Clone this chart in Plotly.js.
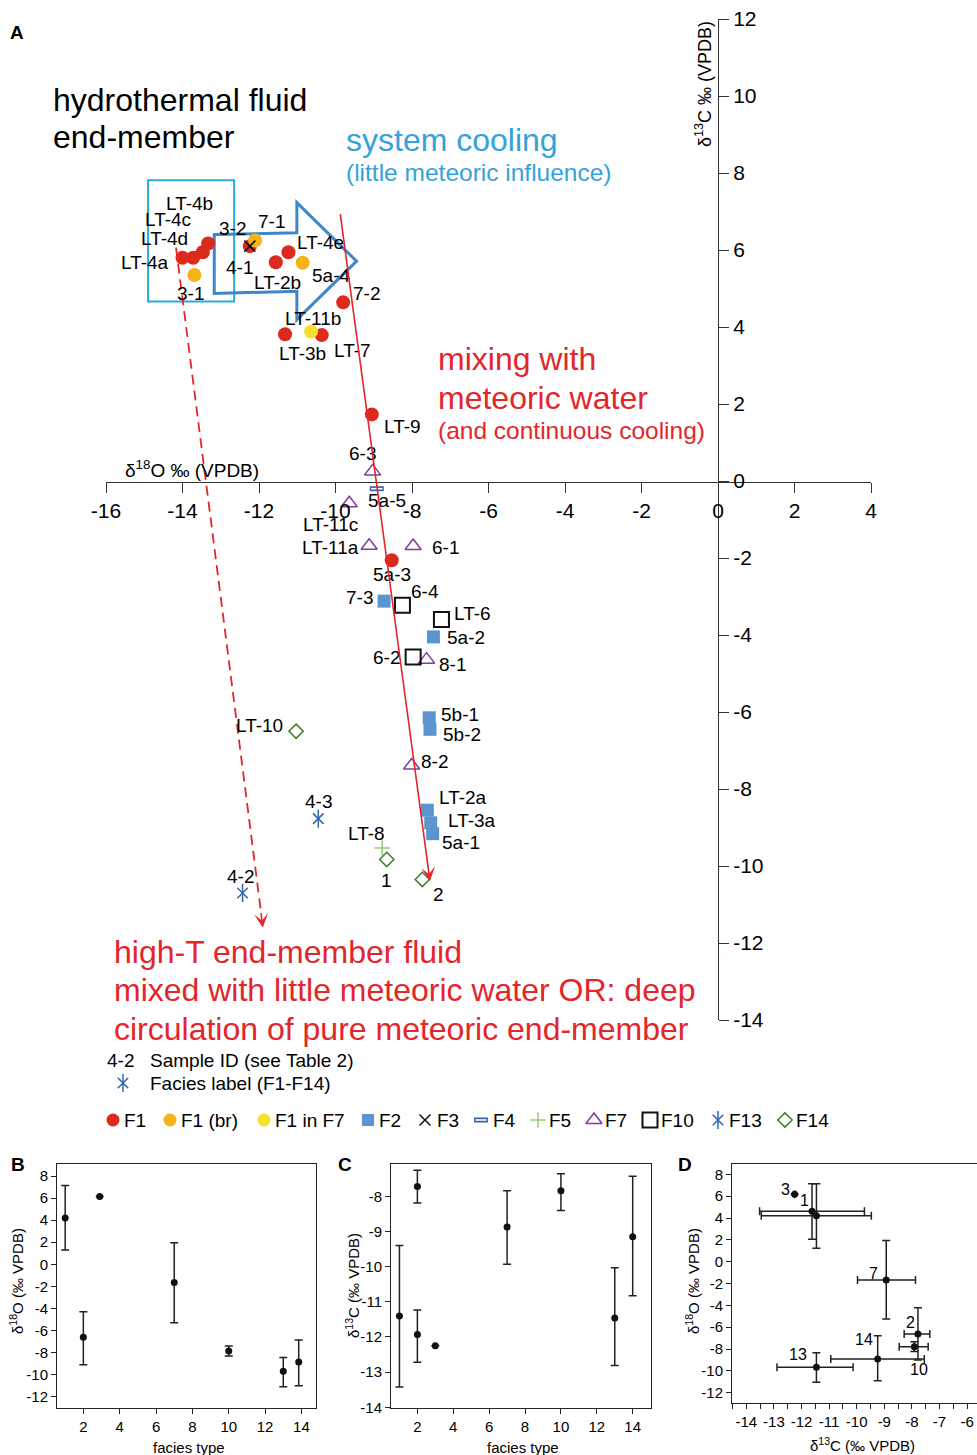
<!DOCTYPE html>
<html><head><meta charset="utf-8">
<script src="https://cdn.plot.ly/plotly-3.0.1.min.js"></script>
<style>body{margin:0;padding:0;background:#fff}#chart{width:977px;height:1455px}</style>
</head><body><div id="chart"></div>
<script>
// ---------------- DATA: panel A (x = δ18O, y = δ13C) ----------------
const F1_d18O = [-14.0,-13.72,-13.47,-13.33,-12.24,-11.23,-11.56,-9.80,-11.32,-10.36,-9.05,-8.53];
const F1_d13C = [5.80,5.80,5.94,6.17,6.10,5.94,5.68,4.64,3.81,3.79,1.73,-2.06];
const F1br_d18O = [-12.10,-13.69,-10.86];
const F1br_d13C = [6.25,5.35,5.67];
const F1inF7_d18O = [-10.64];
const F1inF7_d13C = [3.88];
const F2_d18O = [-8.73,-7.44,-7.55,-7.53,-7.60,-7.51,-7.46];
const F2_d13C = [-3.12,-4.05,-6.15,-6.45,-8.55,-8.88,-9.16];
const F3_d18O = [-12.24];
const F3_d13C = [6.10];
const F4_d18O = [-8.92];
const F4_d13C = [-0.20];
const F5_d18O = [-8.78];
const F5_d13C = [-9.53];
const F7_d18O = [-9.03,-9.64,-9.12,-7.97,-7.62,-8.01];
const F7_d13C = [0.25,-0.58,-1.68,-1.69,-4.64,-7.39];
const F10_d18O = [-8.25,-7.23,-7.97];
const F10_d13C = [-3.23,-3.60,-4.57];
const F13_d18O = [-10.45,-12.43];
const F13_d13C = [-8.77,-10.70];
const F14_d18O = [-11.03,-8.66,-7.73];
const F14_d13C = [-6.50,-9.83,-10.35];

const sampleLabels = ['LT-4b','LT-4c','LT-4d','LT-4a','3-1','3-2','7-1','4-1','LT-2b','LT-4e','5a-4','7-2','LT-11b','LT-3b','LT-7','LT-9','6-3','5a-5','LT-11c','LT-11a','6-1','5a-3','7-3','6-4','LT-6','5a-2','6-2','8-1','5b-1','5b-2','LT-10','8-2','LT-2a','4-3','LT-3a','LT-8','5a-1','4-2','1','2'];

// trend arrows (δ18O, δ13C): solid = mixing, dashed = high-T end-member
const mixArrowTail = [-9.88, 6.97], mixArrowHead = [-7.53, -10.39];
const hiTArrowTail = [-14.17, 6.06], hiTArrowHead = [-11.90, -11.60];

// ---------------- DATA: panel B (facies vs δ18O) ----------------
const faciesB = [1, 2, 2.9, 7, 10, 13, 13.85];
const d18O_B = [4.2, -6.6, 6.15, -1.65, -7.85, -9.7, -8.85];
const d18O_B_errPlus = [2.95, 2.3, null, 3.6, 0.45, 1.25, 2.0];
const d18O_B_errMinus = [2.9, 2.5, null, 3.65, 0.45, 1.4, 2.15];

// ---------------- DATA: panel C (facies vs δ13C) ----------------
const faciesC = [1, 2, 2, 3, 7, 10, 13, 14];
const d13C_C = [-11.40, -7.72, -11.93, -12.25, -8.87, -7.84, -11.46, -9.15];
const d13C_C_errPlus = [2.0, 0.46, 0.70, null, 1.03, 0.48, 1.43, 1.72];
const d13C_C_errMinus = [2.02, 0.47, 0.79, null, 1.06, 0.56, 1.35, 1.68];

// ---------------- DATA: panel D (δ13C vs δ18O facies means) ----------------
const faciesD = ['3','1','','7','2','10','14','13'];
const d13C_D = [-12.25, -11.62, -11.46, -8.93, -7.78, -7.91, -9.24, -11.46];
const d18O_D = [6.17, 4.61, 4.21, -1.68, -6.62, -7.79, -8.91, -9.68];
const d13C_D_errPlus = [null, 1.90, 1.99, 1.06, 0.43, 0.50, 1.69, 1.33];
const d13C_D_errMinus = [null, 1.90, 2.00, 1.04, 0.50, 0.55, 1.70, 1.43];
const d18O_D_errPlus = [null, 2.54, 2.94, 3.63, 2.39, 0.46, 2.13, 1.34];
const d18O_D_errMinus = [null, 2.56, 2.99, 3.57, 2.38, 0.45, 1.99, 1.37];

// ---------------- layout helpers ----------------
const W = 977, H = 1455;
const FONT = 'Liberation Sans, Arial, Helvetica, sans-serif';
const PX = x => x / W, PY = y => 1 - y / H;
function seq(a, b, s) { const r = []; for (let v = a; v <= b + 1e-9; v += s) r.push(Math.round(v * 100) / 100); return r; }
function ticksFrom(vals) { return {tickmode:'array', tickvals:vals, ticktext:vals.map(v => String(v))}; }

const sampleLabelPos = [[189,204],[168,219],[164,239],[145,262],[190,294],[232,228],[271,221],[239,267],[277,283],[320,243],[331,275],[366,294],[313,318],[302,353],[352,350],[402,426],[362,453],[387,500],[330,524],[330,547],[445,547],[392,575],[359,597],[425,591],[472,613],[466,637],[386,658],[452,665],[460,714],[462,734],[259,725],[434,761],[463,797],[318,801],[472,820],[366,833],[461,842],[240,876],[386,881],[438,894]];
const dLabelPos = [[785,1189],[804,1200],null,[873,1273],[910,1322],[919,1369],[864,1339],[798,1354]];

const RED = '#E2262A', CYAN = '#2AA9E0', BLUE_TXT = '#35A2DA';
const sty = {
  F1:     {symbol:'circle', color:'#DD2A1E', size:14, line:{width:0}},
  F1br:   {symbol:'circle', color:'#F6B21B', size:14, line:{width:0}},
  F1inF7: {symbol:'circle', color:'#F5E12E', size:14, line:{width:0}},
  F2:     {symbol:'square', color:'#5B95CD', size:13, line:{width:0}},
  F3:     {symbol:'x-thin-open', color:'#111', size:11, line:{width:1.5, color:'#111'}},
  F4a:    {symbol:'line-ew-open', color:'#3D63A7', size:10, line:{width:5, color:'#3D63A7'}},
  F4b:    {symbol:'line-ew-open', color:'#fff', size:8, line:{width:1.6, color:'#fff'}},
  F5:     {symbol:'cross-thin-open', color:'#98C97C', size:11, line:{width:1.5, color:'#98C97C'}},
  F7:     {symbol:'triangle-up-open', color:'#7D3F98', size:14, line:{width:1.5, color:'#7D3F98'}},
  F10:    {symbol:'square-open', color:'#111', size:15, line:{width:2, color:'#111'}},
  F13a:   {symbol:'x-thin-open', color:'#2F66AA', size:10.5, line:{width:1.5, color:'#2F66AA'}},
  F13b:   {symbol:'line-ns-open', color:'#2F66AA', size:13, line:{width:1.5, color:'#2F66AA'}},
  F14:    {symbol:'diamond-open', color:'#3F7B2B', size:11, line:{width:1.5, color:'#3F7B2B'}}
};

function mk(x, y, marker, name, xa, ya) {
  return {type:'scatter', mode:'markers', x:x, y:y, xaxis:xa||'x', yaxis:ya||'y',
          marker:marker, name:name, hoverinfo:'skip', cliponaxis:false, showlegend:false};
}

const traces = [
  mk(F1_d18O, F1_d13C, sty.F1, 'F1'),
  mk(F1br_d18O, F1br_d13C, sty.F1br, 'F1 (br)'),
  mk(F1inF7_d18O, F1inF7_d13C, sty.F1inF7, 'F1 in F7'),
  mk(F2_d18O, F2_d13C, sty.F2, 'F2'),
  mk(F3_d18O, F3_d13C, sty.F3, 'F3'),
  mk(F4_d18O, F4_d13C, sty.F4a, 'F4'),
  mk(F4_d18O, F4_d13C, sty.F4b, 'F4'),
  mk(F5_d18O, F5_d13C, sty.F5, 'F5'),
  mk(F7_d18O, F7_d13C, sty.F7, 'F7'),
  mk(F10_d18O, F10_d13C, sty.F10, 'F10'),
  mk(F13_d18O, F13_d13C, sty.F13a, 'F13'),
  mk(F13_d18O, F13_d13C, sty.F13b, 'F13'),
  mk(F14_d18O, F14_d13C, sty.F14, 'F14')
];

// panels B, C, D
const dot = {symbol:'circle', color:'#111', size:7};
const eb = (p, m) => ({type:'data', symmetric:false, array:p, arrayminus:m, color:'#222', thickness:1.5, width:4});
traces.push(Object.assign(mk(faciesB, d18O_B, dot, 'B', 'x2', 'y2'), {error_y: eb(d18O_B_errPlus, d18O_B_errMinus)}));
traces.push(Object.assign(mk(faciesC, d13C_C, dot, 'C', 'x3', 'y3'), {error_y: eb(d13C_C_errPlus, d13C_C_errMinus)}));
traces.push(Object.assign(mk(d13C_D, d18O_D, dot, 'D', 'x4', 'y4'),
  {error_y: eb(d18O_D_errPlus, d18O_D_errMinus), error_x: eb(d13C_D_errPlus, d13C_D_errMinus)}));

// custom legend (overlay pixel axes)
const legendItems = [
  ['F1', ['F1'], 113, 124], ['F1 (br)', ['F1br'], 170, 181], ['F1 in F7', ['F1inF7'], 264, 275],
  ['F2', ['F2'], 368, 379], ['F3', ['F3'], 425, 437], ['F4', ['F4a','F4b'], 481, 493],
  ['F5', ['F5'], 538, 549], ['F7', ['F7'], 594, 605], ['F10', ['F10'], 650, 661],
  ['F13', ['F13a','F13b'], 718, 729], ['F14', ['F14'], 785, 796]
];
const LEG_Y = 1120;
legendItems.forEach(it => {
  it[1].forEach(k => {
    const m = Object.assign({}, sty[k]);
    if (m.symbol === 'circle') m.size = 13;
    if (m.symbol === 'square') m.size = 12;
    traces.push(mk([it[2]], [LEG_Y], m, it[0], 'x5', 'y5'));
  });
});
traces.push(mk([123], [1083], sty.F13a, 'key', 'x5', 'y5'));
traces.push(mk([123], [1083], sty.F13b, 'key', 'x5', 'y5'));

// ---------------- annotations ----------------
const ann = [];
function txt(t, x, y, size, color, xanchor, extra) {
  ann.push(Object.assign({text:t, x:PX(x), y:PY(y), xref:'paper', yref:'paper', showarrow:false,
    xanchor:xanchor||'center', yanchor:'middle', font:{family:FONT, size:size, color:color||'#000'}}, extra||{}));
}
sampleLabels.forEach((s, i) => txt(s, sampleLabelPos[i][0], sampleLabelPos[i][1], 19));
faciesD.forEach((s, i) => { if (s && dLabelPos[i]) txt(s, dLabelPos[i][0], dLabelPos[i][1], 16); });

txt('hydrothermal fluid', 51, 100, 32, '#000', 'left');
txt('end-member', 51, 137, 32, '#000', 'left');
txt('system cooling', 344, 140, 32, BLUE_TXT, 'left');
txt('(little meteoric influence)', 344, 172, 24.5, BLUE_TXT, 'left');
txt('mixing with', 436, 359, 32, RED, 'left');
txt('meteoric water', 436, 398, 32, RED, 'left');
txt('(and continuous cooling)', 436, 430, 24.5, RED, 'left');
txt('high-T end-member fluid', 112, 952, 32, RED, 'left');
txt('mixed with little meteoric water OR: deep', 112, 990, 32, RED, 'left');
txt('circulation of pure meteoric end-member', 112, 1029, 32, RED, 'left');
txt('4-2', 105, 1060, 19, '#000', 'left');
txt('Sample ID (see Table 2)', 148, 1060, 19, '#000', 'left');
txt('Facies label (F1-F14)', 148, 1083, 19, '#000', 'left');
legendItems.forEach(it => txt(it[0], it[3] - 2, LEG_Y, 19, '#000', 'left'));

txt('δ<sup>18</sup>O ‰ (VPDB)', 123, 469, 19, '#000', 'left');
txt('δ<sup>13</sup>C ‰ (VPDB)', 703, 84, 18, '#000', 'center', {textangle:-90});
txt('<b>A</b>', 17, 32, 19);
txt('<b>B</b>', 18, 1164, 19);
txt('<b>C</b>', 345, 1164, 19);
txt('<b>D</b>', 685, 1164, 19);
txt('δ<sup>18</sup>O (‰ VPDB)', 16, 1281, 15, '#000', 'center', {textangle:-90});
txt('facies type', 189, 1447, 15);
txt('δ<sup>13</sup>C (‰ VPDB)', 352, 1286, 15, '#000', 'center', {textangle:-90});
txt('facies type', 523, 1447, 15);
txt('δ<sup>18</sup>O (‰ VPDB)', 692, 1281, 15, '#000', 'center', {textangle:-90});
txt('δ<sup>13</sup>C (‰ VPDB)', 862, 1444, 15);

// arrows
ann.push({x:mixArrowHead[0], y:mixArrowHead[1], ax:mixArrowTail[0], ay:mixArrowTail[1],
  xref:'x', yref:'y', axref:'x', ayref:'y', text:'', showarrow:true,
  arrowhead:3, arrowsize:1.45, arrowwidth:1.6, arrowcolor:RED});
ann.push({x:hiTArrowHead[0], y:hiTArrowHead[1], ax:-2, ay:-16, xref:'x', yref:'y', text:'', showarrow:true,
  arrowhead:3, arrowsize:1.45, arrowwidth:1.6, arrowcolor:RED});

// ---------------- shapes ----------------
const shapes = [
  {type:'rect', xref:'x', yref:'y', x0:-14.90, x1:-12.65, y0:4.66, y1:7.81, line:{color:CYAN, width:2}, layer:'below'},
  {type:'path', xref:'x', yref:'y', layer:'below',
   path:'M -13.17,6.40 L -11.01,6.45 L -11.01,7.23 L -9.45,5.71 L -11.01,4.19 L -11.01,4.93 L -13.17,4.87 Z',
   line:{color:'#3E87C8', width:3}},
  {type:'line', xref:'x', yref:'y', x0:hiTArrowTail[0], y0:hiTArrowTail[1], x1:-11.95, y1:-11.18,
   line:{color:RED, width:1.8, dash:'10px,6px'}}
];

// ---------------- axes ----------------
const tf = s => ({family:FONT, size:s, color:'#000'});
const mainAx = {showgrid:false, zeroline:false, showline:true, linecolor:'#333', linewidth:1,
  ticks:'outside', ticklen:10, tickwidth:1, tickcolor:'#333', tickfont:tf(21), fixedrange:true};
const boxAx = {showgrid:false, zeroline:false, showline:true, mirror:true, linecolor:'#222', linewidth:1,
  ticks:'outside', ticklen:5, tickwidth:1, tickcolor:'#222', tickfont:tf(15), fixedrange:true};
const yB = [PY(1408), PY(1164)];

const layout = {
  width:W, height:H, margin:{l:0, r:0, t:0, b:0},
  paper_bgcolor:'#fff', plot_bgcolor:'rgba(0,0,0,0)', showlegend:false,
  font:{family:FONT, color:'#000'},
  xaxis: Object.assign({}, mainAx, ticksFrom(seq(-16, 4, 2)), {domain:[PX(106), PX(871)], range:[-16, 4], anchor:'free', position:PY(481.5)}),
  yaxis: Object.assign({}, mainAx, ticksFrom(seq(-14, 12, 2)), {domain:[PY(1020), PY(19)], range:[-14, 12], anchor:'free', position:PX(718), side:'right'}),
  xaxis2: Object.assign({}, boxAx, ticksFrom(seq(2, 14, 2)), {domain:[PX(57), PX(316)], range:[0.55, 14.8], anchor:'y2'}),
  yaxis2: Object.assign({}, boxAx, ticksFrom(seq(-12, 8, 2)), {domain:yB, range:[-13.02, 9.09], anchor:'x2'}),
  xaxis3: Object.assign({}, boxAx, ticksFrom(seq(2, 14, 2)), {domain:[PX(391), PX(651)], range:[0.53, 15.02], anchor:'y3'}),
  yaxis3: Object.assign({}, boxAx, ticksFrom(seq(-14, -8, 1)), {domain:yB, range:[-14.02, -7.08], anchor:'x3'}),
  xaxis4: Object.assign({}, boxAx, ticksFrom(seq(-14, -6, 1)), {domain:[PX(732), 1], range:[-14.52, -5.64], anchor:'y4',
          minor:{tickmode:'array', tickvals:seq(-14.5, -5.5, 1), ticks:'outside', ticklen:5, tickcolor:'#222'}}),
  yaxis4: Object.assign({}, boxAx, ticksFrom(seq(-12, 8, 2)), {domain:[PY(1402.7), PY(1164)], range:[-12.92, 8.95], anchor:'x4'}),
  xaxis5: {domain:[0,1], range:[0, W], anchor:'y5', visible:false, fixedrange:true},
  yaxis5: {domain:[0,1], range:[H, 0], anchor:'x5', visible:false, fixedrange:true},
  annotations: ann,
  shapes: shapes
};

Plotly.newPlot('chart', traces, layout, {staticPlot:true, displayModeBar:false});
</script>
</body></html>
